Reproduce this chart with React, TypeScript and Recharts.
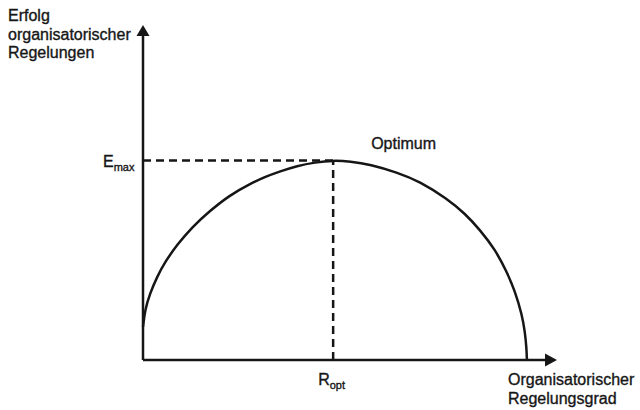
import { LineChart, Line, XAxis, YAxis, ReferenceLine, ReferenceDot } from 'recharts';

// Regelungsgrad (x) and Erfolg (y), arbitrary 0-100 units
const curveX = [0, 0.5, 1.7, 3.5, 5.5, 8.5, 12.2, 16.7, 21.6, 26.6, 30.3, 34.1, 38.3, 42.8, 47.3, 51.5, 56.5, 63.2, 68.9, 75.6, 80.1, 83.8, 87.6, 90.5, 92.5, 94.3, 95.0, 95.4, 95.5];
const curveY = [10.2, 15.5, 20.4, 25.7, 30.3, 35.6, 41.0, 46.1, 50.9, 54.3, 56.5, 58.2, 59.9, 61.0, 61.6, 61.3, 60.4, 57.9, 55.1, 49.8, 45.2, 40.2, 34.1, 27.2, 21.4, 13.9, 8.7, 3.7, 0];

const R_OPT = 47.3;
const E_MAX = 61.6;

const yTitle = ['Erfolg', 'organisatorischer', 'Regelungen'];
const xTitle = ['Organisatorischer', 'Regelungsgrad'];

const data = curveX.map((x, i) => ({ x, y: curveY[i] }));

const INK = '#161616';
const FONT = '"Liberation Sans", Arial, Helvetica, sans-serif';
const textStyle = { fontFamily: FONT, fontSize: 16, fill: INK, stroke: INK, strokeWidth: 0.35 };

const ArrowUp = ({ cx, cy }: any) => (
  <g>
    <polygon points={`${cx - 6.5},${cy} ${cx + 6.5},${cy} ${cx},${cy - 11}`} fill={INK} />
    <text x={8} y={cy - 15} style={textStyle}>
      {yTitle.map((t, i) => (
        <tspan key={t} x={8} dy={i === 0 ? 0 : 18.5}>{t}</tspan>
      ))}
    </text>
  </g>
);

const ArrowRight = ({ cx, cy }: any) => (
  <g>
    <polygon points={`${cx},${cy - 6.5} ${cx},${cy + 6.5} ${cx + 12},${cy}`} fill={INK} />
    <text x={cx - 37} y={cy + 25} style={textStyle}>
      {xTitle.map((t, i) => (
        <tspan key={t} x={cx - 37} dy={i === 0 ? 0 : 18.5}>{t}</tspan>
      ))}
    </text>
  </g>
);

const EmaxLabel = ({ cx, cy }: any) => (
  <text x={cx - 40} y={cy + 7} style={textStyle}>
    E<tspan fontSize={11} dy={4}>max</tspan>
  </text>
);

const RoptLabel = ({ cx, cy }: any) => (
  <text x={cx - 15} y={cy + 25} style={textStyle}>
    R<tspan fontSize={11} dy={4}>opt</tspan>
  </text>
);

const OptimumLabel = ({ cx, cy }: any) => (
  <text x={cx + 38} y={cy - 11} style={textStyle}>
    Optimum
  </text>
);

export default function App() {
  return (
    <div style={{ position: 'fixed', left: 0, top: 0, width: 640, height: 410, background: '#fff' }}>
      <LineChart width={640} height={410} data={data} margin={{ top: 36, right: 95, bottom: 50, left: 143 }}>
        <XAxis type="number" dataKey="x" domain={[0, 100]} hide />
        <YAxis type="number" domain={[0, 100]} hide />
        {/* axes */}
        <ReferenceLine segment={[{ x: 0, y: 0 }, { x: 100, y: 0 }]} stroke={INK} strokeWidth={2.5} ifOverflow="visible" />
        <ReferenceLine segment={[{ x: 0, y: 0 }, { x: 0, y: 100 }]} stroke={INK} strokeWidth={2.5} ifOverflow="visible" />
        <ReferenceLine
          segment={[{ x: 0, y: E_MAX }, { x: R_OPT, y: E_MAX }]}
          stroke={INK}
          strokeWidth={2.5}
          strokeDasharray="8 5"
        />
        <ReferenceLine
          segment={[{ x: R_OPT, y: 0 }, { x: R_OPT, y: E_MAX }]}
          stroke={INK}
          strokeWidth={2.5}
          strokeDasharray="8 5"
        />
        <Line
          type="basis"
          dataKey="y"
          stroke={INK}
          strokeWidth={2.5}
          dot={false}
          activeDot={false}
          isAnimationActive={false}
        />
        <ReferenceDot x={0} y={100} ifOverflow="visible" shape={<ArrowUp />} />
        <ReferenceDot x={100} y={0} ifOverflow="visible" shape={<ArrowRight />} />
        <ReferenceDot x={0} y={E_MAX} ifOverflow="visible" shape={<EmaxLabel />} />
        <ReferenceDot x={R_OPT} y={0} ifOverflow="visible" shape={<RoptLabel />} />
        <ReferenceDot x={R_OPT} y={E_MAX} ifOverflow="visible" shape={<OptimumLabel />} />
      </LineChart>
    </div>
  );
}
